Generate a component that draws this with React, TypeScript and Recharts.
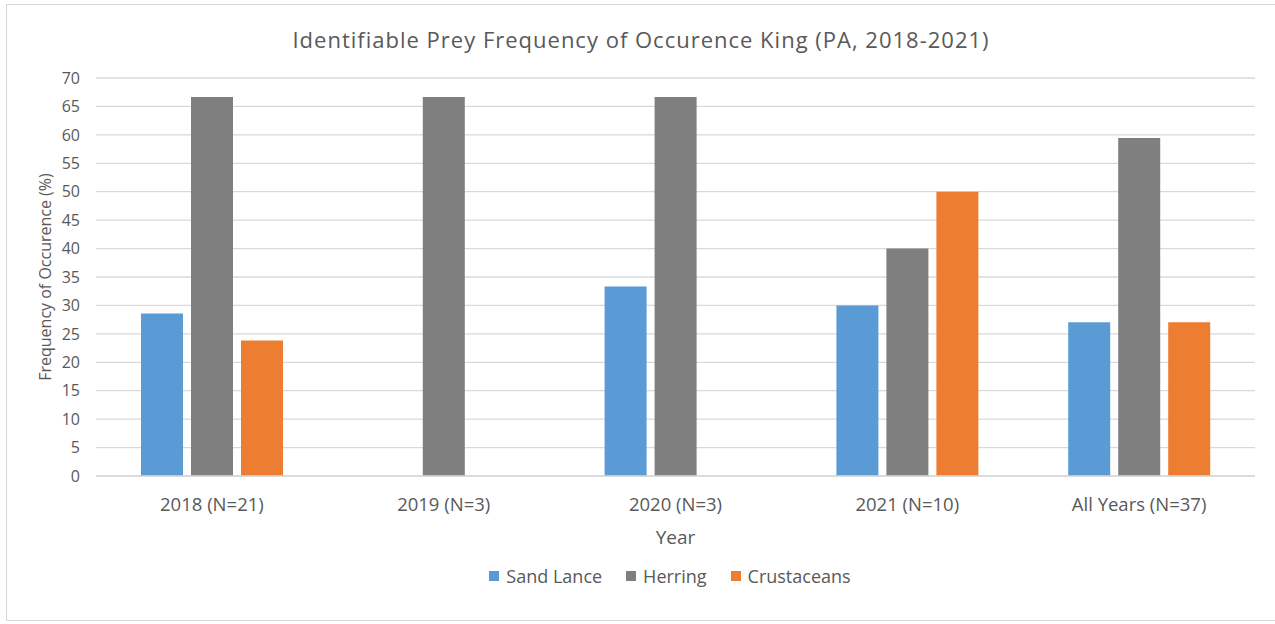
import { BarChart, Bar, XAxis, YAxis, CartesianGrid } from "recharts";

const years = ["2018 (N=21)", "2019 (N=3)", "2020 (N=3)", "2021 (N=10)", "All Years (N=37)"];
const sandLance = [28.57, 0, 33.33, 30, 27.03];
const herring = [66.67, 66.67, 66.67, 40, 59.46];
const crustaceans = [23.81, 0, 0, 50, 27.03];
const yTicks = [0, 5, 10, 15, 20, 25, 30, 35, 40, 45, 50, 55, 60, 65, 70];

const series = [
  { key: "sandLance", name: "Sand Lance", color: "#5B9BD5" },
  { key: "herring", name: "Herring", color: "#7F7F7F" },
  { key: "crustaceans", name: "Crustaceans", color: "#ED7D31" },
];

const data = years.map((year, i) => ({
  year,
  sandLance: sandLance[i],
  herring: herring[i],
  crustaceans: crustaceans[i],
}));

const FONT = "'Open Sans', sans-serif";
const TEXT = "#595959";

const App = () => {
  return (
    <div style={{ position: "absolute", left: 0, top: 0, width: 1275, height: 624, fontFamily: FONT }}>
      {/* chart frame */}
      <div
        style={{
          position: "absolute",
          left: 6,
          top: 4,
          width: 1275,
          height: 617,
          border: "1px solid #d9d9d9",
          boxSizing: "border-box",
        }}
      />
      <div
        style={{
          position: "absolute",
          top: 24,
          left: 0,
          width: 1282,
          textAlign: "center",
          fontSize: 22,
          color: TEXT,
          letterSpacing: 1,
        }}
      >
        Identifiable Prey Frequency of Occurence King (PA, 2018-2021)
      </div>
      <BarChart
        width={1275}
        height={624}
        data={data}
        margin={{ top: 78, right: 20, bottom: 0, left: 0 }}
        barSize={42}
        barGap={8}
        style={{ position: "absolute", left: 0, top: 0 }}
      >
        <CartesianGrid vertical={false} stroke="#d9d9d9" strokeWidth={1.3} />
        <XAxis
          dataKey="year"
          height={148}
          axisLine={{ stroke: "#d9d9d9", strokeWidth: 1.3 }}
          tickLine={false}
          tick={{ fill: TEXT, fontSize: 18.5, fontFamily: FONT }}
          tickMargin={16}
          label={{
            value: "Year",
            position: "insideBottom",
            offset: 80,
            style: { fill: TEXT, fontSize: 19, fontFamily: FONT },
          }}
        />
        <YAxis
          width={96}
          domain={[0, 70]}
          ticks={yTicks}
          interval={0}
          axisLine={false}
          tickLine={false}
          tick={{ fill: TEXT, fontSize: 16, fontFamily: FONT }}
          tickMargin={10}
          label={{
            value: "Frequency of Occurence (%)",
            angle: -90,
            position: "insideLeft",
            offset: 45,
            style: { fill: TEXT, fontSize: 16, fontFamily: FONT, textAnchor: "middle" },
          }}
        />
        {series.map((s) => (
          <Bar key={s.key} dataKey={s.key} name={s.name} fill={s.color} isAnimationActive={false} />
        ))}
      </BarChart>
      {/* legend */}
      <div
        style={{
          position: "absolute",
          top: 564,
          left: 0,
          width: 1340,
          display: "flex",
          justifyContent: "center",
          gap: 24,
          fontSize: 18,
          color: TEXT,
        }}
      >
        {series.map((s) => (
          <div key={s.key} style={{ display: "flex", alignItems: "center", gap: 7 }}>
            <span style={{ display: "inline-block", width: 10, height: 10, background: s.color }} />
            <span>{s.name}</span>
          </div>
        ))}
      </div>
    </div>
  );
};

export default App;
